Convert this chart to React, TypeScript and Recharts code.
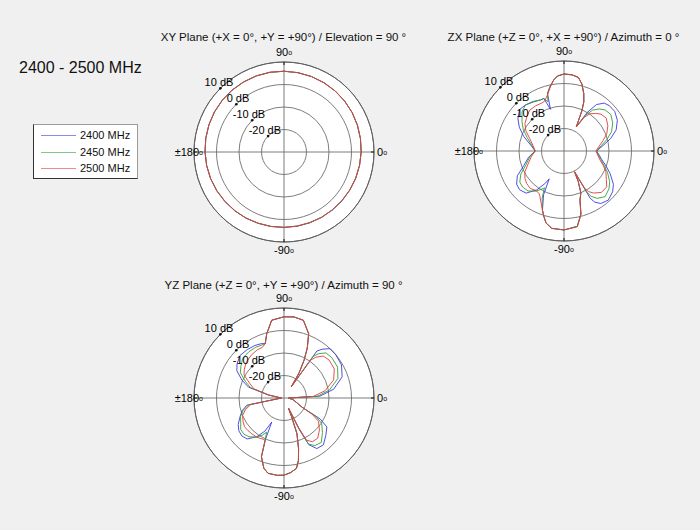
import { PolarAngleAxis, PolarGrid, PolarRadiusAxis, Radar, RadarChart } from 'recharts';

// series
const seriesKeys = ['f2400', 'f2450', 'f2500'];
const seriesNames = ['2400 MHz', '2450 MHz', '2500 MHz'];
const seriesColors = ['#3a3ae2', '#32a032', '#e63a3a'];

// axes
const dbDomain = [-30, 10];
const angleTicks = [0, 90, 180, 270];
const angleLabels: Record<number, string> = { 0: '0', 90: '90', 180: '\u00b1180', 270: '-90' };

// XY plane (angle in degrees, counter-clockwise from +X), gain in dB
const xyAngles = [0, 10, 20, 30, 40, 50, 60, 70, 80, 90, 100, 110, 120, 130, 140, 150, 160, 170,
  180, 190, 200, 210, 220, 230, 240, 250, 260, 270, 280, 290, 300, 310, 320, 330, 340, 350];
const xy2400 = [4.3, 4.5, 4.8, 5.0, 5.2, 5.4, 5.6, 5.7, 5.8, 5.9, 6.0, 6.0, 6.0, 5.9, 5.8, 5.7, 5.5, 5.3,
  5.1, 4.9, 4.7, 4.5, 4.3, 4.1, 3.9, 3.7, 3.6, 3.5, 3.5, 3.5, 3.5, 3.6, 3.7, 3.8, 4.0, 4.1];
const xy2450 = [4.3, 4.5, 4.7, 5.0, 5.2, 5.4, 5.5, 5.7, 5.8, 5.9, 5.9, 6.0, 5.9, 5.9, 5.8, 5.6, 5.5, 5.3,
  5.1, 4.9, 4.7, 4.4, 4.2, 4.0, 3.9, 3.7, 3.6, 3.5, 3.4, 3.4, 3.5, 3.5, 3.6, 3.7, 3.9, 4.1];
const xy2500 = [4.3, 4.5, 4.7, 5.0, 5.2, 5.4, 5.5, 5.7, 5.8, 5.9, 6.0, 6.0, 5.9, 5.9, 5.8, 5.7, 5.5, 5.3,
  5.1, 4.9, 4.7, 4.5, 4.2, 4.0, 3.9, 3.7, 3.6, 3.5, 3.5, 3.4, 3.5, 3.5, 3.6, 3.8, 3.9, 4.1];

// ZX plane
const zxAngles = [0, 8, 15, 22, 30, 38, 45, 50, 55, 59, 63, 66, 68, 71, 75, 79, 84, 90, 95, 98, 102, 106,
  108, 111, 115, 122, 130, 137, 145, 152, 160, 170, 180, 190, 200, 208, 215, 221, 228, 235, 240, 242,
  245, 250, 253, 256, 261, 270, 280, 285, 288, 292, 295, 297, 299, 301, 305, 312, 320, 326, 334, 340, 347];
const zx2400 = [-15.5, -12.5, -8.5, -5.0, -2.6, -1.4, -1.5, -2.2, -4.8, -10.0, -18.0, -10.5, -6.5, -3.0, 0.8, 3.3, 4.0, 4.2, 3.4, 2.0, -0.5, -3.3,
  -10.5, -5.0, -5.0, -4.3, -3.3, -3.0, -5.0, -7.5, -10.9, -15.0, -17.2, -14.0, -11.0, -6.5, -4.3, -3.8, -4.8, -8.9, -13.5, -16.0,
  -8.5, -2.0, 0.5, 3.0, 4.8, 5.1, 4.0, -1.0, -7.0, -10.0, -15.0, -19.6, -6.0, -3.5, -1.5, -0.6, -1.8, -3.5, -7.2, -10.0, -12.7];
const zx2450 = [-15.6, -13.3, -10.3, -7.2, -5.0, -3.6, -4.2, -5.6, -7.8, -11.5, -18.0, -10.5, -6.5, -3.0, 0.8, 3.3, 4.0, 4.2, 3.4, 2.0, -0.6, -3.5,
  -7.0, -5.0, -5.0, -4.0, -3.3, -4.5, -7.2, -9.5, -12.6, -15.5, -17.2, -14.5, -12.0, -8.3, -6.0, -5.6, -6.1, -8.2, -10.5, -11.5,
  -7.0, -2.0, 0.5, 3.0, 4.8, 5.1, 4.0, -1.0, -7.0, -10.0, -15.0, -19.6, -9.0, -6.5, -4.3, -2.7, -3.9, -5.5, -8.5, -11.0, -13.3];
const zx2500 = [-15.8, -14.2, -12.0, -9.5, -7.5, -6.2, -6.8, -8.2, -9.8, -12.5, -18.0, -10.5, -6.5, -3.0, 0.8, 3.4, 4.1, 4.3, 3.5, 2.1, -0.8, -3.8,
  -4.8, -6.2, -6.5, -6.3, -6.3, -7.5, -8.8, -10.8, -13.8, -16.0, -17.2, -15.2, -13.0, -10.3, -8.8, -8.0, -7.6, -8.5, -8.0, -7.2,
  -5.5, -2.0, 0.5, 3.0, 4.8, 5.1, 4.2, -0.8, -7.0, -10.0, -15.0, -19.6, -11.0, -9.0, -7.2, -5.2, -5.2, -7.3, -9.3, -11.5, -13.8];

// YZ plane
const yzAngles = [0, 3, 10, 20, 30, 40, 47, 52, 55, 57, 59, 62, 65, 69, 76, 83, 90, 99, 105, 109, 113, 119,
  127, 136, 144, 150, 157, 163, 169, 175, 180, 185, 191, 197, 203, 210, 216, 222, 228, 235, 240, 243,
  246, 249, 254, 258, 265, 270, 275, 280, 283, 286, 290, 292, 294, 296, 298, 303, 310, 318, 326, 330, 333, 340, 350];
const yz2400 = [-28, -14.0, -7.6, -2.5, -0.5, 0.0, 0.0, -2.5, -4.5, -24, -17, -11, -5.5, 0.6, 5.6, 6.3, 6.1, 5.0, -0.4, -4.4, -3.8, -3.3,
  -3.0, -2.8, -4.2, -5.8, -9.7, -13.5, -23, -28, -29, -28, -13.2, -10.5, -8.8, -6.5, -5.2, -4.8, -5.5, -9.0, -13.0, -18.0,
  -9.4, -2.0, 2.5, 4.2, 4.5, 4.3, 3.3, 1.8, -1.5, -6.5, -13.2, -20.9, -25, -14.0, -6.5, -3.2, -2.8, -5.0, -7.0, -11.5, -21, -24, -26];
const yz2450 = [-28, -15.0, -9.5, -4.5, -2.5, -2.2, -2.6, -5.0, -7.5, -24, -17, -11, -5.5, 0.6, 5.6, 6.3, 6.1, 5.0, -0.4, -4.4, -4.5, -4.2,
  -4.2, -4.5, -6.3, -7.6, -11.5, -14.5, -23, -28, -29, -28, -14.0, -11.0, -9.0, -7.8, -6.2, -6.0, -6.8, -8.8, -11.0, -13.0,
  -9.4, -2.0, 2.5, 4.2, 4.5, 4.3, 3.3, 1.8, -1.5, -6.5, -13.2, -20.9, -25, -15.0, -6.8, -4.8, -4.2, -7.0, -9.8, -13.5, -21, -24, -26];
const yz2500 = [-28, -17.0, -11.5, -6.5, -4.2, -3.8, -4.5, -7.0, -9.5, -24, -17, -11, -5.5, 0.6, 5.6, 6.3, 6.1, 5.0, -0.4, -4.4, -5.5, -5.5,
  -6.0, -6.8, -8.2, -9.5, -13.5, -16.0, -23, -28, -29, -28, -15.0, -12.0, -10.0, -9.0, -8.3, -8.4, -8.6, -8.8, -9.2, -9.5,
  -9.4, -2.0, 2.5, 4.2, 4.5, 4.3, 3.3, 1.8, -1.5, -6.5, -13.2, -20.9, -25, -16.0, -8.8, -6.8, -6.7, -8.8, -11.5, -15.5, -21, -24, -26];

const FONT = '"Liberation Sans", Arial, Helvetica, sans-serif';
const SIZE = 240;
const RADIUS = 90;

const toRows = (angles: number[], a: number[], b: number[], c: number[]) =>
  angles.map((angle, i) => ({ angle, f2400: a[i], f2450: b[i], f2500: c[i] }));

const panels = [
  {
    title: 'XY Plane (+X = 0\u00b0, +Y = +90\u00b0) / Elevation = 90 \u00b0',
    cx: 283.5, cy: 152, titleY: 37,
    data: toRows(xyAngles, xy2400, xy2450, xy2500),
  },
  {
    title: 'ZX Plane (+Z = 0\u00b0, +X = +90\u00b0) / Azimuth = 0 \u00b0',
    cx: 563.5, cy: 151, titleY: 37,
    data: toRows(zxAngles, zx2400, zx2450, zx2500),
  },
  {
    title: 'YZ Plane (+Z = 0\u00b0, +Y = +90\u00b0) / Azimuth = 90 \u00b0',
    cx: 283.5, cy: 398, titleY: 285,
    data: toRows(yzAngles, yz2400, yz2450, yz2500),
  },
];

function AngleTick(props: any) {
  const { x, y, payload } = props;
  const v = payload.value;
  if (!(v in angleLabels)) return <g />;
  let tx = x;
  let ty = y;
  let anchor = 'middle';
  if (v === 90) ty = y - 13;
  else if (v === 270) ty = y + 11;
  else if (v === 0) {
    tx = x + 6;
    anchor = 'start';
  } else if (v === 180) {
    tx = x + 6;
    anchor = 'end';
  }
  return (
    <text x={tx} y={ty + 4} textAnchor={anchor} fontSize={11} fill="#000" stroke="none" fontFamily={FONT}>
      {angleLabels[v]}
      <tspan fontSize={7} dy={-1} fill="#000">o</tspan>
    </text>
  );
}

function DbTick(props: any) {
  const { x, y, payload } = props;
  if (payload.value <= dbDomain[0]) return <g />;
  return (
    <g>
      <circle cx={x} cy={y} r={1.3} fill="#111" />
      <text x={x + 13} y={y - 2} textAnchor="end" fontSize={11} fill="#000" stroke="none" fontFamily={FONT}>
        {`${payload.value} dB`}
      </text>
    </g>
  );
}

function Panel({ title, cx, cy, titleY, data }: (typeof panels)[number]) {
  return (
    <>
      <div
        style={{
          position: 'absolute',
          left: cx - 150,
          top: titleY - 7,
          width: 300,
          textAlign: 'center',
          fontSize: 11.5,
          lineHeight: '14px',
          color: '#111',
          whiteSpace: 'nowrap',
        }}
      >
        {title}
      </div>
      <div
        style={{
          position: 'absolute',
          left: cx - RADIUS,
          top: cy - RADIUS,
          width: RADIUS * 2,
          height: RADIUS * 2,
          borderRadius: '50%',
          background: '#ffffff',
        }}
      />
      <div style={{ position: 'absolute', left: cx - SIZE / 2, top: cy - SIZE / 2 }}>
        <RadarChart
          width={SIZE}
          height={SIZE}
          data={data}
          cx={SIZE / 2}
          cy={SIZE / 2}
          outerRadius={RADIUS}
          startAngle={0}
          endAngle={360}
          margin={{ top: 0, right: 0, bottom: 0, left: 0 }}
        >
          <PolarGrid gridType="circle" stroke="#6e6e6e" strokeWidth={0.9} />
          <PolarAngleAxis
            dataKey="angle"
            type="number"
            domain={[0, 360]}
            ticks={angleTicks}
            tickCount={5}
            axisLineType="circle"
            axisLine={{ stroke: '#5e5e5e' }}
            tickLine={{ stroke: '#111' }}
            tickSize={3}
            orientation="inner"
            tick={AngleTick}
          />
          <PolarRadiusAxis
            angle={135}
            type="number"
            domain={dbDomain}
            tickCount={5}
            axisLine={false}
            tickLine={false}
            tick={DbTick}
          />
          {seriesKeys.map((key, i) => (
            <Radar
              key={key}
              dataKey={key}
              name={seriesNames[i]}
              stroke={seriesColors[i]}
              strokeWidth={0.9}
              fill="none"
              fillOpacity={0}
              dot={false}
              isAnimationActive={false}
            />
          ))}
        </RadarChart>
      </div>
    </>
  );
}

export default function App() {
  return (
    <div
      style={{
        position: 'absolute',
        left: 0,
        top: 0,
        width: 700,
        height: 530,
        background: '#f0f0f0',
        fontFamily: FONT,
        overflow: 'hidden',
      }}
    >
      <div style={{ position: 'absolute', left: 19, top: 59, fontSize: 16, lineHeight: '18px', color: '#111' }}>
        2400 - 2500 MHz
      </div>

      <div
        style={{
          position: 'absolute',
          left: 33,
          top: 124,
          width: 103,
          height: 53,
          background: '#ffffff',
          borderLeft: '1px solid #333',
          borderBottom: '1px solid #333',
          borderTop: '1px solid #9a9a9a',
          borderRight: '1px solid #9a9a9a',
        }}
      >
        {seriesNames.map((name, i) => (
          <div key={name} style={{ position: 'absolute', left: 7, top: 3 + i * 16.7, height: 14, width: 96 }}>
            <div
              style={{
                position: 'absolute',
                left: 0,
                top: 7,
                width: 35,
                height: 1,
                background: seriesColors[i],
                opacity: 0.6,
              }}
            />
            <div style={{ position: 'absolute', left: 39, top: 0, fontSize: 11, lineHeight: '14px', color: '#111' }}>
              {name}
            </div>
          </div>
        ))}
      </div>

      {panels.map((p) => (
        <Panel key={p.title} {...p} />
      ))}
    </div>
  );
}
